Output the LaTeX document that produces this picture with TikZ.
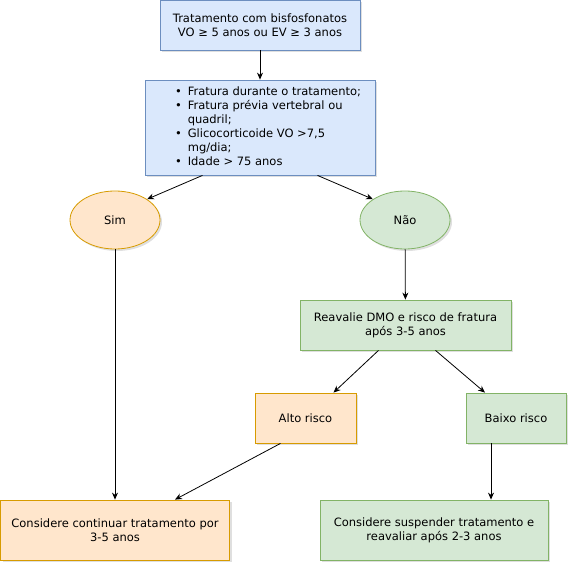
\documentclass[tikz,border=0pt]{standalone}
\usepackage{fontspec}
\setmainfont{DejaVu Sans}
\usetikzlibrary{shapes.geometric, shadows, arrows.meta}

\definecolor{fillblue}{HTML}{DAE8FC}
\definecolor{lineblue}{HTML}{6C8EBF}
\definecolor{fillorange}{HTML}{FFE6CC}
\definecolor{lineorange}{HTML}{D79B00}
\definecolor{fillgreen}{HTML}{D5E8D4}
\definecolor{linegreen}{HTML}{82B366}

\begin{document}
\begin{tikzpicture}[x=1pt, y=-1pt, >={Stealth[length=7pt, width=6pt]},
    box/.style={rectangle, draw, line width=0.8pt, align=center, font=\fontsize{11.5}{14}\selectfont,
        drop shadow={opacity=0.25, shadow xshift=2pt, shadow yshift=-2pt}},
    bluebox/.style={box, fill=fillblue, draw=lineblue},
    orangebox/.style={box, fill=fillorange, draw=lineorange},
    greenbox/.style={box, fill=fillgreen, draw=linegreen},
    arrow/.style={->, line width=0.8pt}]
    \useasboundingbox (0,0) rectangle (577,572);
    \node[bluebox, minimum width=200pt, minimum height=50pt] (T) at (260,25) {Tratamento com bisfosfonatos\\VO ≥ 5 anos ou EV ≥ 3 anos};
    \node[bluebox, minimum width=230pt, minimum height=95pt] (F) at (260,127.5) {\hspace*{16pt}\begin{tabular}{@{}l@{\hspace{6pt}}l@{}}
        • & Fratura durante o tratamento;\\
        • & Fratura prévia vertebral ou\\
          & quadril;\\
        • & Glicocorticoide VO >7,5\\
          & mg/dia;\\
        • & Idade > 75 anos
    \end{tabular}};
    \node[orangebox, ellipse, minimum width=90pt, minimum height=58pt] (S) at (115,220) {Sim};
    \node[greenbox, ellipse, minimum width=90pt, minimum height=58pt] (N) at (405,220) {Não};
    \node[greenbox, minimum width=211pt, minimum height=50pt] (R) at (405.5,325) {Reavalie DMO e risco de fratura\\após 3-5 anos};
    \node[orangebox, minimum width=101pt, minimum height=50pt] (A) at (305.5,418) {Alto risco};
    \node[greenbox, minimum width=100pt, minimum height=50pt] (B) at (516,418) {Baixo risco};
    \node[orangebox, minimum width=229pt, minimum height=60pt] (C) at (115,530) {Considere continuar tratamento por\\3-5 anos};
    \node[greenbox, minimum width=228pt, minimum height=60pt] (D) at (434,530) {Considere suspender tratamento e\\reavaliar após 2-3 anos};

    \draw[arrow] (T) -- (F);
    \draw[arrow] ([xshift=-57.5pt]F.south) -- (S.north east);
    \draw[arrow] ([xshift=57.5pt]F.south) -- (N.north west);
    \draw[arrow] (S) -- (C);
    \draw[arrow] (N) -- (R);
    \draw[arrow] ([xshift=-27pt]R.south) -- ([xshift=28pt]A.north);
    \draw[arrow] ([xshift=30pt]R.south) -- ([xshift=-31pt]B.north);
    \draw[arrow] ([xshift=-25pt]A.south) -- ([xshift=60pt]C.north);
    \draw[arrow] ([xshift=-25pt]B.south) -- ([xshift=-25pt]B.south |- D.north);
\end{tikzpicture}
\end{document}
